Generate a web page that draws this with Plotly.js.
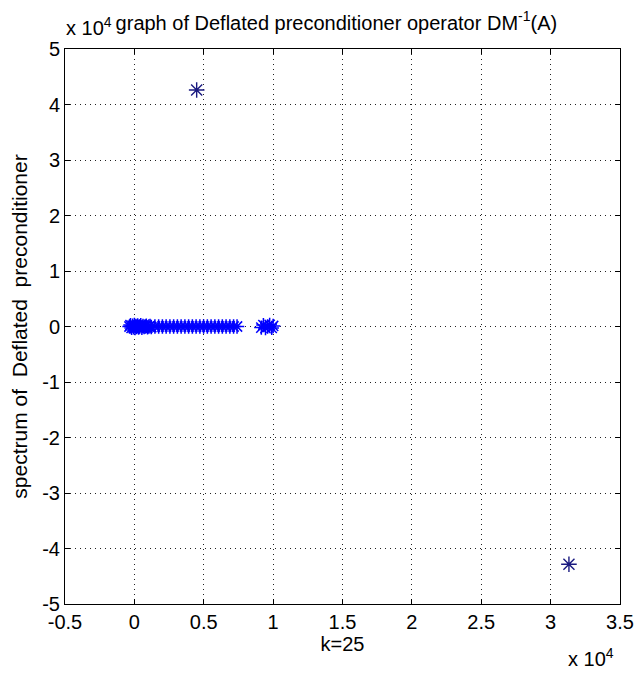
<!DOCTYPE html>
<html>
<head>
<meta charset="utf-8">
<script src="https://cdn.plot.ly/plotly-3.0.1.min.js"></script>
<style>html,body{margin:0;padding:0;background:#fff;}#chart{width:634px;height:673px;}</style>
</head>
<body>
<div id="chart"></div>
<script>
// Eigenvalues of the deflated preconditioned operator (real, imaginary parts)
var clusterRe = [-350,-280,-200,-130,-60,0,50,110,170,240,310,380,460,540,620,700,780,860,950,1040,1130,1220,
  1480,1750,2020,2290,2560,2830,3100,3370,3640,3910,4180,4450,4720,4990,5260,5530,5800,6070,6340,6610,6880,7150,7400,
  9150,9300,9450,9600,9750,9900,10000];
var clusterIm = [0,250,-250,150,-150,300,-300,100,-100,200,-200,0,250,-250,100,-100,0,150,-150,0,100,-100,
  0,0,0,0,0,0,0,0,0,0,0,0,0,0,0,0,0,0,0,0,0,0,0,
  -200,250,-300,0,300,-250,100];
var outlierRe = [4490, 31320];
var outlierIm = [42600, -42850];

var xTickVals = [-5000,0,5000,10000,15000,20000,25000,30000,35000];
var xTickText = ['-0.5','0','0.5','1','1.5','2','2.5','3','3.5'];
var yTickVals = [-50000,-40000,-30000,-20000,-10000,0,10000,20000,30000,40000,50000];
var yTickText = ['-5','-4','-3','-2','-1','0','1','2','3','4','5'];

var font = {family: 'Liberation Sans, Arial, sans-serif', size: 20, color: '#000'};
var yTitleFont = {family: 'Liberation Sans, Arial, sans-serif', size: 21, color: '#000'};

var traces = [
  {x: clusterRe, y: clusterIm, mode: 'markers', type: 'scatter',
   marker: {symbol: 'asterisk-open', size: 12, color: '#0000ff', line: {color: '#0000ff', width: 1.5}},
   hoverinfo: 'x+y'},
  {x: outlierRe, y: outlierIm, mode: 'markers', type: 'scatter',
   marker: {symbol: 'asterisk-open', size: 13, color: '#1a1a80', line: {color: '#1a1a80', width: 1.4}},
   hoverinfo: 'x+y'}
];

var axisCommon = {
  showline: true, linecolor: '#000', linewidth: 1, mirror: 'allticks',
  ticks: 'inside', ticklen: 5, tickcolor: '#000', tickwidth: 1,
  showgrid: true, gridcolor: '#222', griddash: '1px,4px', gridwidth: 1,
  zeroline: false, tickfont: font, automargin: false, tickmode: 'array'
};

var layout = {
  width: 634, height: 673,
  margin: {l: 65, r: 14, t: 49, b: 69},
  paper_bgcolor: '#fff', plot_bgcolor: '#fff',
  showlegend: false,
  font: font,
  title: {text: 'graph of Deflated preconditioner operator DM<sup>-1</sup>(A)', font: font,
          xref: 'paper', x: 0.489, xanchor: 'center', y: 0.966, yanchor: 'middle'},
  xaxis: Object.assign({}, axisCommon, {range: [-5000, 35000], tickvals: xTickVals, ticktext: xTickText,
          title: {text: 'k=25', font: font, standoff: 2}}),
  yaxis: Object.assign({}, axisCommon, {range: [-50000, 50000], tickvals: yTickVals, ticktext: yTickText,
          title: {text: 'spectrum of  Deflated  preconditioner', font: yTitleFont, standoff: 8}}),
  annotations: [
    {text: 'x 10<sup>4</sup>', xref: 'paper', yref: 'paper', x: 0, y: 1, xanchor: 'left', yanchor: 'bottom',
     xshift: -1, yshift: 8, showarrow: false, font: font},
    {text: 'x 10<sup>4</sup>', xref: 'paper', yref: 'paper', x: 1, y: 0, xanchor: 'right', yanchor: 'middle',
     yshift: -53, xshift: -4, showarrow: false, font: font}
  ]
};

Plotly.newPlot('chart', traces, layout, {displayModeBar: false, staticPlot: true});
</script>
</body>
</html>
